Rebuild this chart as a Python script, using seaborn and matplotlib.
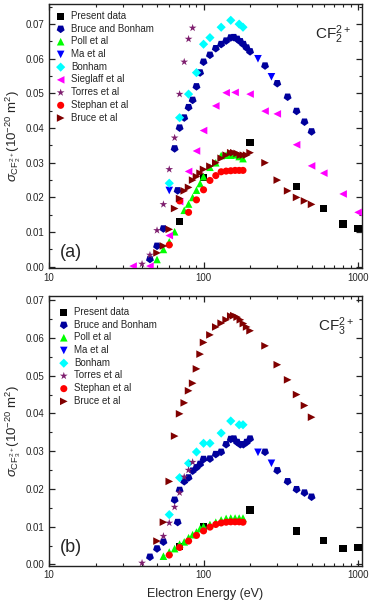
import matplotlib
matplotlib.use("Agg")
import matplotlib.pyplot as plt
import seaborn as sns
from matplotlib.ticker import FixedLocator, FuncFormatter, MultipleLocator, LogLocator, NullFormatter

# ---------------- data: CF2 2+ (panel a) ----------------
present_E = [70, 100, 200, 400, 600, 800, 1000]
present_a = [0.013, 0.0258, 0.0358, 0.0231, 0.0169, 0.0123, 0.0111]

bb_E = [45, 50, 55, 65, 68, 70, 75, 80, 85, 90, 95, 100, 110, 120, 130, 140, 150, 157, 165, 173, 181,
        190, 200, 250, 300, 350, 400, 450, 500]
bb_a = [0.0022, 0.006, 0.011, 0.0341, 0.022, 0.0401, 0.043, 0.046, 0.0481, 0.052, 0.056, 0.0591, 0.0611,
        0.063, 0.0642, 0.0652, 0.0661, 0.0662, 0.0657, 0.065, 0.0642, 0.0632, 0.0621, 0.058, 0.0529, 0.049,
        0.0449, 0.0418, 0.039]

poll_E = [50, 55, 60, 65, 75, 80, 85, 90, 95, 100, 110, 120, 130, 140, 150, 160, 170, 180]
poll_a = [0.0021, 0.005, 0.0072, 0.0101, 0.0163, 0.0181, 0.02, 0.0221, 0.024, 0.026, 0.0287, 0.03, 0.0321,
          0.0322, 0.0322, 0.0323, 0.0318, 0.0312]

ma_E_a = [60, 225, 275]
ma_a = [0.022, 0.06, 0.0548]

bonham_E = [60, 70, 80, 90, 100, 110, 130, 150, 170, 180]
bonham_a = [0.0241, 0.043, 0.0498, 0.056, 0.0642, 0.0661, 0.0691, 0.0711, 0.070, 0.0691]

sieglaff_E = [35, 45, 60, 70, 80, 90, 100, 120, 140, 160, 200, 250, 300, 400, 500, 600, 800, 1000]
sieglaff_a = [0.0002, 0.0002, 0.009, 0.0188, 0.0275, 0.0334, 0.0393, 0.0464, 0.0502, 0.0503, 0.0498,
              0.0449, 0.0441, 0.0352, 0.0291, 0.027, 0.021, 0.0157]

torres_E_a = [40, 45, 50, 55, 60, 65, 70, 75, 80, 85]
torres_a = [0.0008, 0.0034, 0.0105, 0.018, 0.0281, 0.0372, 0.0498, 0.0591, 0.0657, 0.0689]

stephan_E = [60, 70, 80, 90, 100, 110, 120, 130, 140, 150, 160, 170, 180]
stephan_a = [0.0063, 0.019, 0.0157, 0.0193, 0.0222, 0.0249, 0.0263, 0.0274, 0.0276, 0.0277, 0.0278,
             0.0278, 0.0278]

bruce_E = [50, 55, 60, 65, 70, 75, 80, 85, 90, 95, 100, 110, 120, 130, 140, 150, 157, 165, 173, 181, 190,
           200, 250, 300, 350, 400, 450, 500]
bruce_a = [0.004, 0.006, 0.0108, 0.0168, 0.0197, 0.0219, 0.0229, 0.025, 0.026, 0.027, 0.0281, 0.029, 0.030,
           0.0313, 0.0322, 0.0329, 0.0329, 0.0327, 0.0322, 0.0322, 0.0322, 0.0329, 0.030, 0.025, 0.0219,
           0.020, 0.019, 0.018]

# ---------------- data: CF3 2+ (panel b) ----------------
present_b = [0.0048, 0.0099, 0.0144, 0.0089, 0.0064, 0.0042, 0.0045]

bb_b = [0.002, 0.0042, 0.006, 0.0171, 0.0112, 0.0197, 0.022, 0.023, 0.0248, 0.0257, 0.0266, 0.0279, 0.028,
        0.0292, 0.0298, 0.0318, 0.0332, 0.0333, 0.0324, 0.0318, 0.0318, 0.0324, 0.0333, 0.0298, 0.0249,
        0.022, 0.0199, 0.019, 0.0179]

poll_E_b = [55, 60, 65, 70, 75, 80, 85, 90, 95, 100, 110, 120, 130, 140, 150, 160, 170, 180]
poll_b = [0.0022, 0.0033, 0.0042, 0.0054, 0.006, 0.0071, 0.0079, 0.0086, 0.0095, 0.0101, 0.0106, 0.0112,
          0.0118, 0.0122, 0.0123, 0.0123, 0.0123, 0.0123]

ma_E_b = [225, 275]
ma_b = [0.0297, 0.0268]

bonham_b = [0.0132, 0.023, 0.0268, 0.0298, 0.0321, 0.0321, 0.0348, 0.038, 0.037, 0.037]

torres_E_b = [40, 55, 60, 65, 70, 75, 80, 85]
torres_b = [0.0004, 0.0075, 0.011, 0.0152, 0.019, 0.0232, 0.025, 0.0271]

stephan_b = [0.0025, 0.0045, 0.0062, 0.0077, 0.0089, 0.0099, 0.0106, 0.011, 0.0112, 0.0113, 0.0113,
             0.0113, 0.0112]

bruce_b = [0.0062, 0.0112, 0.022, 0.034, 0.0399, 0.0428, 0.046, 0.048, 0.0518, 0.0557, 0.0588, 0.0608,
           0.0629, 0.0639, 0.0648, 0.0658, 0.0659, 0.0655, 0.0648, 0.0638, 0.0629, 0.0619, 0.0579, 0.0529,
           0.0489, 0.045, 0.0421, 0.039]

x_ticks = [10, 100, 1000]
y_ticks = [0.00, 0.01, 0.02, 0.03, 0.04, 0.05, 0.06, 0.07]

# ---------------- style ----------------
sns.set_style("ticks")
plt.rcParams["font.family"] = ["Liberation Sans", "DejaVu Sans"]
plt.rcParams["mathtext.fontset"] = "custom"
plt.rcParams["mathtext.rm"] = "Liberation Sans"
plt.rcParams["mathtext.it"] = "Liberation Sans:italic"
plt.rcParams["mathtext.bf"] = "Liberation Sans:bold"

C_BLACK = "#000000"
C_NAVY = "#00009c"
C_GREEN = "#00ff00"
C_BLUE = "#0000ff"
C_CYAN = "#00ffff"
C_MAG = "#ff00ff"
C_PURP = "#7f1f6f"
C_RED = "#ff0000"
C_DRED = "#800000"
SHIELD = (5, 0, 180)

fig = plt.figure(figsize=(3.70, 6.05), dpi=100)
W, H = 370.0, 605.0
L, R = 49.0, 362.0
ax1 = fig.add_axes([L / W, 1 - 268.5 / H, (R - L) / W, (268.5 - 4) / H])
ax2 = fig.add_axes([L / W, 1 - 566.0 / H, (R - L) / W, (566.0 - 296) / H])


def plot_series(ax, series):
    for (xs, ys, label, marker, color, size) in series:
        sns.scatterplot(x=xs, y=ys, ax=ax, marker=marker, color=color, s=size,
                        edgecolor="none", linewidth=0, label=label, legend=False, zorder=3)


series_a = [
    (present_E, present_a, "Present data", "s", C_BLACK, 28),
    (bb_E, bb_a, "Bruce and Bonham", SHIELD, C_NAVY, 36),
    (poll_E, poll_a, "Poll et al", "^", C_GREEN, 30),
    (ma_E_a, ma_a, "Ma et al", "v", C_BLUE, 30),
    (bonham_E, bonham_a, "Bonham", "D", C_CYAN, 22),
    (sieglaff_E, sieglaff_a, "Sieglaff et al", "<", C_MAG, 30),
    (torres_E_a, torres_a, "Torres et al", "*", C_PURP, 34),
    (stephan_E, stephan_a, "Stephan et al", "o", C_RED, 26),
    (bruce_E, bruce_a, "Bruce et al", ">", C_DRED, 30),
]
series_b = [
    (present_E, present_b, "Present data", "s", C_BLACK, 28),
    (bb_E, bb_b, "Bruce and Bonham", SHIELD, C_NAVY, 36),
    (poll_E_b, poll_b, "Poll et al", "^", C_GREEN, 30),
    (ma_E_b, ma_b, "Ma et al", "v", C_BLUE, 30),
    (bonham_E, bonham_b, "Bonham", "D", C_CYAN, 22),
    (torres_E_b, torres_b, "Torres et al", "*", C_PURP, 34),
    (stephan_E, stephan_b, "Stephan et al", "o", C_RED, 26),
    (bruce_E, bruce_b, "Bruce et al", ">", C_DRED, 30),
]

plot_series(ax1, series_a)
plot_series(ax2, series_b)

for ax, ylim in ((ax1, (-0.0005, 0.0758)), (ax2, (-0.0004, 0.0711))):
    ax.set_xscale("log")
    ax.set_xlim(10, 1060)
    ax.set_ylim(*ylim)
    ax.xaxis.set_major_locator(FixedLocator(x_ticks))
    ax.xaxis.set_major_formatter(FuncFormatter(lambda v, p: f"{v:g}"))
    ax.xaxis.set_minor_locator(LogLocator(base=10, subs=range(2, 10)))
    ax.xaxis.set_minor_formatter(NullFormatter())
    ax.yaxis.set_major_locator(FixedLocator(y_ticks))
    ax.yaxis.set_major_formatter(FuncFormatter(lambda v, p: f"{v:.2f}"))
    ax.yaxis.set_minor_locator(MultipleLocator(0.005))
    ax.tick_params(which="both", direction="in", top=True, right=True, labelsize=7, pad=3,
                   color="#222222")
    ax.tick_params(which="major", length=4, width=0.9)
    ax.tick_params(which="minor", length=2.2, width=0.8)
    for sp in ax.spines.values():
        sp.set_linewidth(1.0)
        sp.set_color("#222222")
    ax.set_xlabel("")
    ax.set_ylabel("")

leg_kw = dict(loc="upper left", frameon=False, fontsize=7, labelspacing=0.28, handletextpad=0.6,
              handlelength=1.0, borderaxespad=0.3, markerscale=1.0)
ax1.legend(bbox_to_anchor=(0.0, 1.0), **leg_kw)
ax2.legend(bbox_to_anchor=(0.01, 0.985), **leg_kw)

ax1.text(0.85, 0.885, r"$\mathrm{CF}_2^{2+}$", transform=ax1.transAxes, fontsize=11, va="center")
ax2.text(0.86, 0.885, r"$\mathrm{CF}_3^{2+}$", transform=ax2.transAxes, fontsize=11, va="center")
ax1.text(0.035, 0.06, "(a)", transform=ax1.transAxes, fontsize=13, va="center")
ax2.text(0.035, 0.07, "(b)", transform=ax2.transAxes, fontsize=13, va="center")

ax1.set_ylabel(r"$\sigma_{\mathrm{CF}_2^{2+}}(10^{-20}\ \mathrm{m}^2)$", fontsize=9.5, labelpad=2)
ax2.set_ylabel(r"$\sigma_{\mathrm{CF}_3^{2+}}(10^{-20}\ \mathrm{m}^2)$", fontsize=9.5, labelpad=2)
ax2.set_xlabel("Electron Energy (eV)", fontsize=9, labelpad=6)

fig.savefig("out.png", dpi=100)
